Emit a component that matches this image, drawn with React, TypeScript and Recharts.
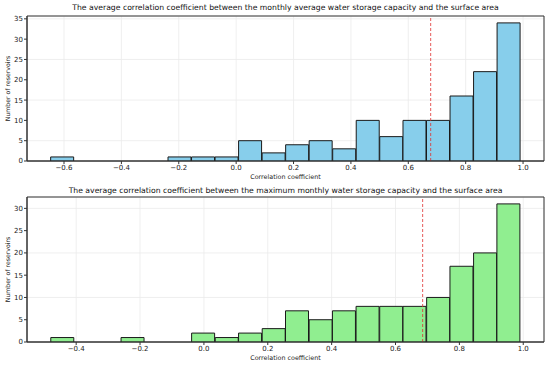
import {
  ComposedChart,
  Bar,
  XAxis,
  YAxis,
  CartesianGrid,
  ReferenceLine,
  ReferenceArea,
} from "recharts";

// bin centres / counts (20 bins each)
const topCenters = [
  -0.606, -0.524, -0.442, -0.36, -0.279, -0.197, -0.115, -0.033, 0.049, 0.131,
  0.213, 0.295, 0.377, 0.459, 0.541, 0.622, 0.704, 0.786, 0.868, 0.95,
];
const topCounts = [1, 0, 0, 0, 0, 1, 1, 1, 5, 2, 4, 5, 3, 10, 6, 10, 10, 16, 22, 34];

const bottomCenters = [
  -0.443, -0.37, -0.296, -0.223, -0.149, -0.076, -0.002, 0.072, 0.145, 0.219,
  0.292, 0.366, 0.439, 0.513, 0.587, 0.66, 0.734, 0.807, 0.881, 0.954,
];
const bottomCounts = [1, 0, 0, 1, 0, 0, 2, 1, 2, 3, 7, 5, 7, 8, 8, 8, 10, 17, 20, 31];

const topMean = 0.678;
const bottomMean = 0.685;

const topXTicks = [-0.6, -0.4, -0.2, 0, 0.2, 0.4, 0.6, 0.8, 1.0];
const bottomXTicks = [-0.4, -0.2, 0, 0.2, 0.4, 0.6, 0.8, 1.0];
const topYTicks = [0, 5, 10, 15, 20, 25, 30, 35];
const bottomYTicks = [0, 5, 10, 15, 20, 25, 30];

const FONT = "DejaVu Sans";
const fmtX = (v: number) => (v < 0 ? `\u2212${Math.abs(v).toFixed(1)}` : v.toFixed(1));

type HistProps = {
  title: string;
  centers: number[];
  counts: number[];
  mean: number;
  xDomain: [number, number];
  yDomain: [number, number];
  xTicks: number[];
  yTicks: number[];
  color: string;
  top: number;
  marginTop: number;
  xAxisHeight: number;
  titleY: number;
};

function Hist(p: HistProps) {
  const data = p.centers.map((x, i) => ({ x, count: p.counts[i] }));
  const W = 550;
  const H = 183;
  const tick = { fontSize: 7, fill: "#222", stroke: "none" };
  return (
    <div style={{ position: "absolute", left: 0, top: p.top, width: W, height: H }}>
      <div
        style={{
          position: "absolute",
          left: 27,
          width: 517,
          top: p.titleY - 6,
          textAlign: "center",
          fontFamily: FONT,
          fontSize: 7.7,
          color: "#111",
          whiteSpace: "nowrap",
        }}
      >
        {p.title}
      </div>
      <ComposedChart
        width={W}
        height={H}
        data={data}
        margin={{ top: p.marginTop, right: 6, left: 0, bottom: 0 }}
        barCategoryGap={0}
        barGap={0}
        style={{ fontFamily: FONT }}
      >
        <CartesianGrid stroke="#ebebeb" strokeWidth={0.8} />
        <XAxis
          dataKey="x"
          type="number"
          domain={p.xDomain}
          ticks={p.xTicks}
          allowDataOverflow
          tickFormatter={fmtX}
          height={p.xAxisHeight}
          tick={tick}
          tickSize={3}
          tickMargin={1}
          stroke="#333"
          label={{
            value: "Correlation coefficient",
            position: "insideBottom",
            offset: p.xAxisHeight - 18,
            fontSize: 6.4,
            fill: "#222",
          }}
        />
        <YAxis
          type="number"
          domain={p.yDomain}
          ticks={p.yTicks}
          allowDataOverflow
          width={27}
          tick={tick}
          tickSize={3}
          tickMargin={1}
          stroke="#333"
          label={{
            value: "Number of reservoirs",
            angle: -90,
            position: "insideLeft",
            offset: 8,
            fontSize: 6.2,
            fill: "#222",
            style: { textAnchor: "middle" },
          }}
        />
        <Bar
          dataKey="count"
          fill={p.color}
          stroke="#1a1a1a"
          strokeWidth={1}
          isAnimationActive={false}
        />
        <ReferenceLine
          x={p.mean}
          stroke="#e03030"
          strokeWidth={0.8}
          strokeDasharray="3 2"
        />
        <ReferenceArea
          x1={p.xDomain[0]}
          x2={p.xDomain[1]}
          y1={p.yDomain[0]}
          y2={p.yDomain[1]}
          fill="none"
          stroke="#333"
          strokeWidth={1}
        />
      </ComposedChart>
    </div>
  );
}

export default function App() {
  return (
    <div
      style={{
        position: "absolute",
        left: 0,
        top: 0,
        width: 550,
        height: 366,
        background: "#fff",
      }}
    >
      <Hist
        title="The average correlation coefficient between the monthly average water storage capacity and the surface area"
        centers={topCenters}
        counts={topCounts}
        mean={topMean}
        xDomain={[-0.729, 1.073]}
        yDomain={[0, 35.7]}
        xTicks={topXTicks}
        yTicks={topYTicks}
        color="#87ceeb"
        top={0}
        marginTop={16}
        xAxisHeight={22}
        titleY={9}
      />
      <Hist
        title="The average correlation coefficient between the maximum monthly water storage capacity and the surface area"
        centers={bottomCenters}
        counts={bottomCounts}
        mean={bottomMean}
        xDomain={[-0.554, 1.065]}
        yDomain={[0, 32.55]}
        xTicks={bottomXTicks}
        yTicks={bottomYTicks}
        color="#90ee90"
        top={183}
        marginTop={14}
        xAxisHeight={24}
        titleY={9}
      />
    </div>
  );
}
